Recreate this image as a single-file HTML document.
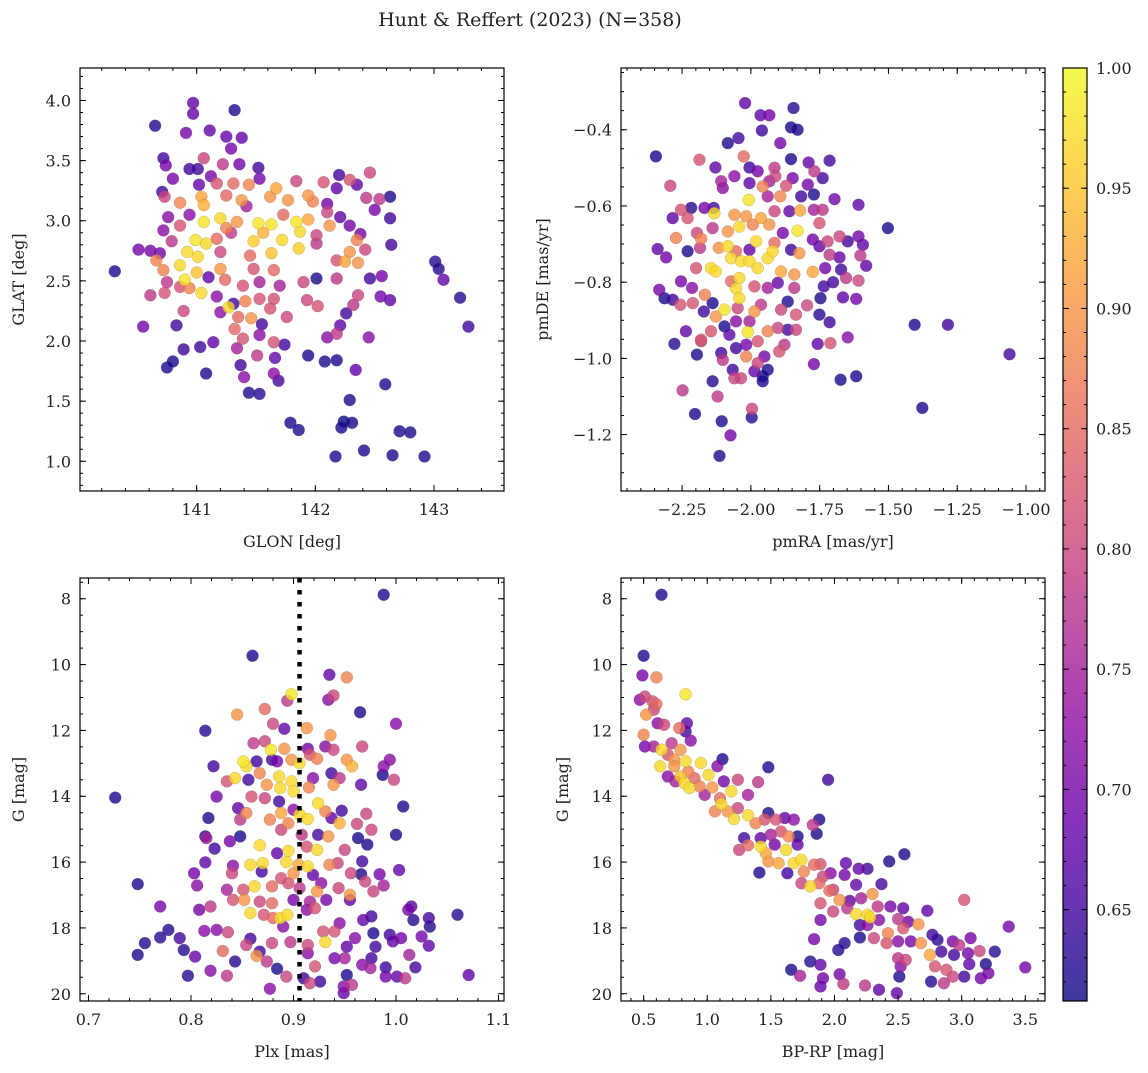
<!DOCTYPE html>
<html><head><meta charset="utf-8"><style>
html,body{margin:0;padding:0;background:#fff;}
svg text{font-family:"DejaVu Serif","Liberation Serif",serif;fill:#222;}
</style></head><body>
<svg id="fig" width="1148" height="1068" viewBox="0 0 1148 1068" xmlns="http://www.w3.org/2000/svg">
<text x="530" y="26" font-size="19" text-anchor="middle">Hunt &amp; Reffert (2023) (N=358)</text>
</svg>
<script>
// ---- Panel A: GLON vs GLAT
const glonA=[140.31,140.65,140.97,140.97,141.32,140.91,141.11,141.25,141.38,141.29,140.72,140.74,141.06,141.22,141.36,140.94,141.01,141.52,140.80,141.12,140.71,141.02,141.17,141.31,141.53,141.84,142.07,142.20,142.29,142.46,142.18,142.35,140.73,140.86,141.04,141.06,141.25,141.38,141.44,141.67,141.62,141.77,141.94,141.98,142.10,142.43,142.54,142.63,142.50,142.10,142.21,142.63,140.76,140.86,140.94,141.06,141.20,141.34,141.25,141.42,141.52,141.63,141.73,141.84,141.94,142.12,142.29,142.38,140.72,140.79,140.99,141.08,140.92,141.17,141.29,141.48,141.56,141.72,141.87,141.86,142.01,142.01,142.35,142.42,142.64,140.51,140.61,140.69,140.66,141.01,141.20,141.45,141.63,141.48,141.65,142.29,142.25,142.36,142.18,140.86,140.72,141.00,141.20,140.90,141.10,140.75,141.24,141.39,141.53,141.70,141.90,142.01,142.18,142.46,142.56,143.01,143.04,143.08,143.22,143.29,140.61,140.73,140.86,141.04,140.94,141.17,141.27,141.31,141.41,141.53,141.65,141.93,142.36,142.63,142.55,140.89,141.20,141.35,141.46,141.62,141.76,142.02,142.26,142.32,140.55,140.83,141.32,141.55,142.21,142.18,141.39,141.53,141.65,141.74,142.10,142.45,141.14,140.89,141.03,141.34,141.51,141.66,141.94,142.08,142.18,140.75,140.80,141.37,141.08,141.40,141.65,141.69,142.34,141.44,141.53,142.59,142.29,141.79,141.86,142.24,142.22,142.31,142.17,142.41,142.65,142.71,142.80,142.92];
const glatA=[2.58,3.79,3.98,3.89,3.92,3.73,3.75,3.70,3.69,3.60,3.52,3.46,3.52,3.47,3.47,3.43,3.43,3.44,3.35,3.37,3.24,3.30,3.31,3.31,3.35,3.33,3.32,3.38,3.34,3.40,3.27,3.30,3.20,3.15,3.20,3.13,3.21,3.17,3.30,3.27,3.20,3.17,3.21,3.16,3.14,3.19,3.18,3.20,3.09,3.07,3.03,3.02,3.03,2.96,3.05,2.99,3.02,2.99,2.94,3.12,2.98,2.97,3.05,2.99,3.01,2.96,2.96,2.89,2.92,2.83,2.84,2.81,2.74,2.85,2.90,2.83,2.90,2.84,2.91,2.77,2.88,2.81,2.84,2.76,2.80,2.76,2.75,2.73,2.67,2.70,2.74,2.71,2.73,2.60,2.59,2.74,2.66,2.65,2.67,2.63,2.59,2.57,2.60,2.51,2.53,2.49,2.51,2.46,2.49,2.46,2.49,2.52,2.52,2.52,2.54,2.66,2.60,2.51,2.36,2.12,2.38,2.40,2.45,2.40,2.44,2.37,2.28,2.31,2.33,2.35,2.35,2.34,2.38,2.34,2.37,2.25,2.24,2.20,2.19,2.27,2.20,2.29,2.23,2.30,2.12,2.13,2.10,2.14,2.13,2.06,2.02,2.05,1.99,1.97,2.03,2.03,1.99,1.93,1.95,1.94,1.88,1.86,1.88,1.83,1.84,1.78,1.83,1.80,1.73,1.70,1.73,1.67,1.76,1.57,1.56,1.64,1.51,1.32,1.26,1.33,1.28,1.32,1.04,1.09,1.05,1.25,1.24,1.04];
const probA=[0.62,0.63,0.68,0.68,0.62,0.7,0.68,0.68,0.68,0.7,0.65,0.7,0.8,0.78,0.7,0.65,0.65,0.65,0.7,0.7,0.65,0.68,0.82,0.85,0.7,0.8,0.82,0.65,0.82,0.8,0.68,0.68,0.8,0.88,0.92,0.93,0.85,0.9,0.88,0.92,0.9,0.9,0.9,0.88,0.7,0.78,0.78,0.62,0.7,0.8,0.68,0.65,0.72,0.82,0.72,0.98,0.97,0.9,0.88,0.75,0.98,0.98,0.85,0.98,0.92,0.9,0.7,0.7,0.72,0.78,0.98,0.97,0.97,0.85,0.78,0.96,0.93,0.97,0.97,0.96,0.8,0.78,0.88,0.8,0.65,0.7,0.7,0.7,0.88,0.97,0.8,0.85,0.95,0.82,0.85,0.9,0.92,0.9,0.82,0.97,0.88,0.95,0.9,0.98,0.68,0.78,0.85,0.82,0.75,0.75,0.8,0.62,0.78,0.65,0.7,0.63,0.63,0.68,0.63,0.65,0.78,0.82,0.82,0.97,0.88,0.72,0.97,0.65,0.88,0.82,0.82,0.8,0.8,0.68,0.7,0.8,0.72,0.85,0.9,0.82,0.8,0.82,0.65,0.78,0.7,0.65,0.85,0.65,0.68,0.78,0.82,0.72,0.82,0.65,0.72,0.72,0.68,0.65,0.65,0.75,0.78,0.68,0.62,0.62,0.62,0.62,0.62,0.65,0.62,0.72,0.72,0.65,0.68,0.62,0.63,0.62,0.62,0.62,0.62,0.6,0.62,0.62,0.62,0.62,0.62,0.62,0.62,0.62];
// ---- Panel B: pmRA vs pmDE
const pmraB=[-2.345,-2.021,-1.965,-1.933,-1.845,-1.854,-1.830,-1.960,-2.084,-2.045,-1.893,-2.187,-2.026,-2.129,-1.854,-1.790,-1.714,-2.293,-2.108,-2.060,-2.005,-1.975,-1.914,-1.911,-1.848,-1.769,-1.739,-2.102,-2.005,-1.957,-1.933,-1.872,-1.793,-1.771,-1.696,-1.609,-1.939,-1.893,-1.817,-2.008,-2.254,-2.217,-2.284,-2.230,-2.169,-2.133,-2.135,-2.060,-2.017,-1.963,-1.914,-1.860,-1.821,-1.771,-1.739,-2.272,-2.181,-2.196,-2.139,-2.084,-2.042,-1.993,-1.933,-1.884,-1.830,-1.751,-1.775,-1.721,-1.678,-1.648,-1.609,-1.593,-1.502,-2.339,-2.308,-2.230,-2.185,-2.117,-2.084,-2.054,-2.005,-1.981,-1.914,-1.854,-1.824,-1.751,-1.714,-1.678,-1.602,-1.581,-2.199,-2.145,-2.127,-2.072,-2.036,-2.005,-1.975,-1.939,-1.921,-1.890,-1.842,-1.775,-1.730,-1.672,-2.254,-2.214,-2.167,-2.042,-2.054,-2.042,-2.072,-1.987,-1.939,-1.902,-1.842,-1.735,-1.701,-1.654,-1.609,-2.333,-2.314,-2.284,-2.256,-2.211,-2.171,-2.139,-2.127,-2.096,-2.048,-1.987,-1.963,-1.890,-1.866,-1.836,-1.796,-1.747,-1.751,-1.714,-1.665,-1.617,-2.236,-2.181,-2.145,-2.096,-2.078,-2.054,-2.011,-2.005,-1.975,-1.939,-1.902,-1.866,-1.836,-2.278,-2.196,-2.181,-2.108,-2.102,-2.054,-2.017,-2.017,-1.975,-1.951,-1.897,-1.878,-1.757,-1.711,-1.648,-1.771,-2.066,-2.060,-2.036,-1.987,-1.957,-1.939,-1.957,-2.139,-1.674,-1.617,-1.405,-1.284,-1.060,-1.377,-2.248,-2.121,-2.203,-2.106,-1.996,-1.997,-2.074,-2.114];
const pmdeB=[-0.470,-0.330,-0.362,-0.362,-0.343,-0.394,-0.400,-0.402,-0.435,-0.422,-0.435,-0.479,-0.470,-0.499,-0.477,-0.486,-0.481,-0.547,-0.535,-0.522,-0.499,-0.509,-0.500,-0.522,-0.527,-0.509,-0.527,-0.553,-0.540,-0.549,-0.535,-0.547,-0.544,-0.570,-0.582,-0.597,-0.575,-0.575,-0.575,-0.584,-0.610,-0.605,-0.632,-0.632,-0.605,-0.619,-0.605,-0.623,-0.627,-0.632,-0.614,-0.614,-0.612,-0.610,-0.610,-0.684,-0.686,-0.671,-0.658,-0.667,-0.654,-0.649,-0.649,-0.671,-0.665,-0.645,-0.688,-0.693,-0.680,-0.693,-0.680,-0.702,-0.658,-0.713,-0.735,-0.719,-0.710,-0.710,-0.706,-0.719,-0.715,-0.693,-0.697,-0.715,-0.724,-0.706,-0.728,-0.735,-0.730,-0.757,-0.763,-0.763,-0.772,-0.737,-0.745,-0.745,-0.763,-0.737,-0.719,-0.772,-0.780,-0.773,-0.763,-0.767,-0.798,-0.815,-0.833,-0.789,-0.817,-0.842,-0.798,-0.811,-0.815,-0.802,-0.815,-0.811,-0.800,-0.789,-0.796,-0.820,-0.842,-0.846,-0.859,-0.855,-0.877,-0.855,-0.890,-0.872,-0.868,-0.877,-0.859,-0.872,-0.851,-0.885,-0.861,-0.842,-0.885,-0.905,-0.840,-0.844,-0.929,-0.951,-0.929,-0.916,-0.938,-0.903,-0.931,-0.903,-0.955,-0.929,-0.920,-0.925,-0.925,-0.962,-0.990,-0.955,-0.986,-1.004,-0.973,-0.964,-0.995,-1.012,-0.995,-0.982,-0.964,-0.962,-0.960,-0.945,-1.015,-1.030,-1.052,-1.052,-1.034,-1.047,-1.030,-1.060,-1.060,-1.056,-1.047,-0.912,-0.912,-0.989,-1.130,-1.084,-1.100,-1.146,-1.165,-1.132,-1.155,-1.202,-1.256];
const probB=[0.62,0.68,0.68,0.7,0.63,0.62,0.62,0.65,0.62,0.65,0.7,0.82,0.85,0.68,0.62,0.68,0.65,0.8,0.75,0.72,0.65,0.7,0.78,0.8,0.7,0.78,0.65,0.72,0.68,0.88,0.75,0.82,0.7,0.62,0.7,0.68,0.75,0.88,0.65,0.98,0.82,0.63,0.68,0.82,0.7,0.97,0.65,0.9,0.9,0.92,0.8,0.68,0.92,0.75,0.78,0.88,0.88,0.8,0.78,0.9,0.97,0.88,0.9,0.7,0.98,0.82,0.7,0.8,0.8,0.65,0.7,0.68,0.62,0.68,0.7,0.62,0.78,0.9,0.97,0.85,0.68,0.97,0.85,0.65,0.9,0.68,0.78,0.68,0.78,0.68,0.82,0.97,0.97,0.97,0.97,0.97,0.97,0.97,0.97,0.92,0.9,0.92,0.7,0.65,0.7,0.72,0.88,0.97,0.97,0.97,0.85,0.82,0.75,0.68,0.78,0.65,0.65,0.78,0.8,0.7,0.62,0.65,0.82,0.82,0.65,0.62,0.9,0.98,0.8,0.9,0.78,0.8,0.62,0.82,0.8,0.62,0.63,0.65,0.68,0.7,0.68,0.82,0.82,0.62,0.68,0.72,0.98,0.75,0.82,0.88,0.8,0.65,0.8,0.63,0.62,0.8,0.65,0.78,0.65,0.7,0.88,0.8,0.7,0.82,0.78,0.68,0.82,0.72,0.7,0.65,0.8,0.8,0.68,0.62,0.62,0.62,0.63,0.62,0.62,0.62,0.65,0.65,0.62,0.78,0.78,0.62,0.62,0.8,0.63,0.7,0.62];
// ---- Panel C: Plx vs G
const plxC=[0.988,0.860,0.726,0.748,0.935,0.952,0.898,0.894,0.934,0.939,0.872,0.845,0.965,0.880,0.891,0.913,0.814,1.000,0.936,0.967,0.861,0.872,0.878,0.891,0.914,0.916,0.931,0.939,0.879,0.851,0.854,0.864,0.884,0.898,0.906,0.923,0.952,0.957,0.994,0.988,0.822,0.843,0.835,0.856,0.867,0.874,0.886,0.887,0.898,0.900,0.915,0.919,0.939,0.937,0.945,0.966,0.987,0.998,0.825,0.859,0.872,0.886,1.007,0.817,0.846,0.854,0.848,0.877,0.888,0.895,0.900,0.906,0.914,0.924,0.931,0.937,0.947,0.945,0.971,0.962,0.976,0.814,0.815,0.838,0.848,0.888,0.908,0.924,0.934,0.963,0.972,1.000,0.823,0.867,0.884,0.895,0.913,0.923,0.950,0.814,0.841,0.858,0.870,0.893,0.905,0.914,0.935,0.943,0.967,1.003,0.803,0.840,0.869,0.888,0.900,0.919,0.927,0.956,0.966,0.984,0.806,0.835,0.851,0.862,0.879,0.895,0.906,0.923,0.944,0.970,0.978,0.988,0.955,0.770,0.808,0.819,0.841,0.852,0.867,0.879,0.900,0.916,0.932,0.955,1.015,1.012,0.858,0.871,0.887,0.894,0.880,0.913,0.921,0.968,0.976,1.017,1.032,1.060,0.778,0.770,0.755,0.748,0.789,0.793,0.804,0.797,0.813,0.825,0.836,0.831,0.819,0.835,0.843,0.854,0.858,0.864,0.867,0.874,0.877,0.879,0.884,0.893,0.890,0.897,0.914,0.914,0.921,0.910,0.916,0.926,0.931,0.929,0.940,0.945,0.940,0.950,0.952,0.960,0.952,0.949,0.957,0.949,0.967,0.976,0.975,0.978,0.980,0.990,0.990,0.994,0.997,1.005,1.001,1.009,1.013,1.019,1.025,1.032,1.033,1.071];
const gmagC=[7.88,9.73,14.04,16.67,10.31,10.39,10.90,11.10,11.07,10.94,11.35,11.52,11.45,11.80,11.95,11.93,12.01,11.80,12.15,12.49,12.39,12.33,12.59,12.56,12.56,12.74,12.49,12.59,12.89,12.94,13.09,12.94,12.94,12.89,12.99,12.86,12.89,13.09,12.89,13.09,13.09,13.45,13.55,13.50,13.30,13.65,13.40,13.75,13.55,13.85,13.73,13.45,13.65,13.30,13.45,13.65,13.35,13.50,14.01,14.01,14.06,14.16,14.31,14.66,14.36,14.51,14.71,14.71,14.51,14.82,14.41,14.56,14.69,14.21,14.46,14.66,14.44,14.82,14.53,14.84,15.02,15.22,15.27,15.37,15.22,15.02,15.17,15.17,15.22,15.27,15.47,15.17,15.59,15.49,15.73,15.66,15.53,15.63,15.63,16.01,16.11,16.08,16.03,16.00,16.08,16.13,16.08,16.03,15.98,16.24,16.34,16.34,16.29,16.49,16.34,16.39,16.64,16.34,16.37,16.37,16.71,16.84,16.84,16.74,16.74,16.64,16.79,16.89,16.79,16.59,16.89,16.71,16.99,17.35,17.45,17.35,17.15,17.15,17.20,17.25,17.15,17.20,17.15,17.15,17.35,17.45,17.55,17.60,17.70,17.60,17.70,17.45,17.40,17.76,17.65,17.76,17.70,17.60,18.06,18.29,18.46,18.82,18.31,18.67,18.87,19.45,18.09,18.06,18.13,18.70,19.30,19.45,19.02,18.52,18.33,18.85,18.72,19.02,19.85,18.46,19.24,19.48,17.96,18.43,18.52,18.77,19.17,19.53,19.68,19.63,18.43,18.11,18.11,17.86,18.92,18.92,18.57,18.31,19.43,19.78,19.73,19.98,19.12,18.92,19.22,18.16,18.57,19.20,19.48,18.21,18.41,18.31,19.48,19.53,18.82,19.20,18.26,18.54,17.96,19.43];
const probC=[0.62,0.62,0.62,0.62,0.68,0.88,0.98,0.78,0.72,0.8,0.85,0.9,0.62,0.8,0.68,0.9,0.63,0.72,0.9,0.8,0.78,0.8,0.98,0.9,0.7,0.82,0.72,0.8,0.65,0.98,0.97,0.65,0.7,0.9,0.97,0.88,0.9,0.93,0.72,0.72,0.65,0.97,0.82,0.65,0.88,0.9,0.97,0.97,0.97,0.97,0.88,0.72,0.9,0.65,0.78,0.68,0.62,0.8,0.7,0.82,0.8,0.65,0.62,0.62,0.68,0.88,0.78,0.88,0.92,0.88,0.72,0.97,0.97,0.97,0.88,0.68,0.65,0.93,0.8,0.8,0.8,0.63,0.75,0.7,0.62,0.8,0.78,0.65,0.9,0.62,0.62,0.62,0.65,0.97,0.68,0.97,0.82,0.97,0.8,0.68,0.72,0.97,0.97,0.97,0.92,0.97,0.88,0.8,0.65,0.68,0.7,0.8,0.65,0.82,0.9,0.68,0.72,0.8,0.62,0.7,0.72,0.75,0.82,0.97,0.85,0.82,0.78,0.9,0.8,0.8,0.8,0.75,0.9,0.7,0.7,0.78,0.82,0.9,0.8,0.85,0.7,0.75,0.7,0.68,0.68,0.7,0.97,0.82,0.97,0.97,0.85,0.72,0.82,0.68,0.65,0.63,0.65,0.63,0.63,0.63,0.63,0.62,0.65,0.63,0.68,0.63,0.72,0.72,0.8,0.85,0.72,0.78,0.63,0.8,0.65,0.9,0.65,0.78,0.72,0.8,0.62,0.8,0.72,0.78,0.8,0.72,0.82,0.65,0.8,0.65,0.97,0.82,0.82,0.72,0.7,0.75,0.68,0.72,0.62,0.72,0.78,0.68,0.72,0.65,0.75,0.62,0.65,0.65,0.7,0.65,0.68,0.7,0.68,0.78,0.75,0.65,0.7,0.68,0.63,0.68];
// ---- Panel D: BP-RP vs G
const bprpD=[0.64,0.50,0.49,0.60,0.83,0.47,0.51,0.57,0.60,0.58,0.52,0.61,0.66,0.84,0.78,0.83,0.50,0.87,0.51,0.58,0.64,0.72,0.79,0.69,0.74,0.83,0.95,0.63,0.74,1.12,1.08,0.69,0.79,0.85,0.90,1.01,1.48,1.95,0.75,0.82,0.86,0.94,0.98,1.04,1.13,1.24,1.40,1.19,1.10,1.32,1.11,1.06,1.16,1.21,1.24,1.32,1.38,1.48,1.45,1.54,1.61,1.68,1.83,1.88,1.86,1.29,1.32,1.25,1.42,1.50,1.58,1.64,1.71,1.42,1.46,1.53,1.62,1.71,1.41,1.48,1.56,1.68,1.63,1.74,1.76,1.84,1.89,2.43,2.55,2.09,2.19,2.26,1.97,1.91,2.08,1.74,1.81,1.88,1.96,1.99,2.17,2.37,2.30,1.89,2.04,2.12,2.21,1.99,2.10,2.17,2.26,2.28,2.34,2.44,2.54,2.73,3.02,2.20,2.26,2.35,2.42,2.50,2.58,2.54,2.66,1.89,3.37,2.20,2.31,2.41,2.50,2.60,2.68,2.77,2.81,2.75,2.84,2.93,2.98,3.07,3.05,3.14,3.26,2.94,2.79,2.88,3.06,3.19,3.50,2.76,2.86,2.93,3.02,3.15,3.21,1.84,2.03,2.08,1.81,1.89,1.66,1.73,1.91,1.89,2.04,2.07,2.24,2.35,2.50,2.52,2.51,2.49,2.56];
const gmagD=[7.88,9.73,10.33,10.39,10.90,11.07,10.97,11.12,11.20,11.37,11.52,11.78,11.83,11.78,11.93,12.03,12.13,12.31,12.49,12.49,12.59,12.39,12.59,12.74,12.89,12.94,12.99,13.09,13.09,12.87,13.09,13.40,13.40,13.25,13.45,13.35,13.12,13.50,13.55,13.60,13.75,13.70,13.96,13.73,13.55,13.50,13.57,13.85,14.06,13.96,14.24,14.46,14.46,14.69,14.36,14.58,14.82,14.51,14.71,14.71,14.66,14.71,14.87,14.71,15.14,15.27,15.49,15.63,15.27,15.17,15.07,15.22,15.22,15.53,15.73,15.47,15.63,15.47,16.32,15.98,16.03,16.03,16.34,15.93,16.29,16.08,16.06,15.98,15.76,16.03,16.20,16.20,16.34,16.44,16.39,16.64,16.74,16.64,16.87,16.84,16.69,16.67,16.97,17.25,17.15,17.18,17.10,17.50,17.40,17.58,17.60,17.68,17.35,17.35,17.40,17.48,17.15,17.91,17.91,17.76,18.16,17.73,17.81,18.01,17.89,17.76,17.96,18.29,18.31,18.46,18.41,18.41,18.46,18.21,18.36,18.82,18.72,18.41,18.52,18.31,18.77,18.70,18.72,18.82,19.17,19.27,19.10,19.10,19.20,19.63,19.68,19.48,19.48,19.53,19.38,18.34,18.67,18.46,19.02,19.12,19.27,19.45,19.53,19.78,19.41,19.70,19.75,19.88,18.92,19.17,19.48,19.98,18.97];
const probD=[0.62,0.62,0.7,0.88,0.98,0.72,0.8,0.82,0.85,0.8,0.9,0.72,0.8,0.68,0.85,0.65,0.88,0.72,0.7,0.75,0.97,0.78,0.9,0.82,0.9,0.97,0.97,0.97,0.9,0.62,0.72,0.72,0.95,0.88,0.85,0.97,0.62,0.65,0.75,0.97,0.97,0.88,0.75,0.9,0.7,0.8,0.78,0.97,0.85,0.75,0.97,0.88,0.9,0.97,0.8,0.97,0.88,0.62,0.82,0.82,0.68,0.72,0.78,0.62,0.62,0.65,0.85,0.8,0.68,0.75,0.82,0.88,0.62,0.97,0.92,0.7,0.97,0.68,0.62,0.9,0.92,0.97,0.65,0.97,0.88,0.85,0.82,0.62,0.62,0.68,0.68,0.65,0.72,0.8,0.7,0.8,0.97,0.85,0.85,0.8,0.68,0.65,0.9,0.82,0.9,0.68,0.75,0.8,0.78,0.97,0.97,0.97,0.78,0.7,0.68,0.68,0.82,0.65,0.72,0.72,0.88,0.78,0.7,0.82,0.9,0.7,0.7,0.62,0.8,0.82,0.72,0.7,0.9,0.65,0.63,0.92,0.65,0.7,0.78,0.7,0.7,0.8,0.63,0.65,0.82,0.82,0.68,0.62,0.7,0.63,0.78,0.8,0.65,0.7,0.7,0.7,0.63,0.63,0.63,0.68,0.62,0.75,0.7,0.68,0.7,0.78,0.78,0.68,0.78,0.72,0.62,0.68,0.8];
// ---- Colorbar ticks
const cbTicks=[0.65,0.70,0.75,0.80,0.85,0.90,0.95,1.00];
const pMin=0.612, pMax=1.0;

const svg=document.getElementById('fig');
const NS='http://www.w3.org/2000/svg';
function mk(tag,attrs,parent){const e=document.createElementNS(NS,tag);for(const k in attrs)e.setAttribute(k,attrs[k]);(parent||svg).appendChild(e);return e;}
const stops=[[13,8,135],[65,4,157],[106,0,168],[143,13,164],[177,42,144],[204,71,120],[225,100,98],[242,132,75],[252,166,54],[252,206,37],[240,249,33]];
function plasma(t){t=Math.max(0,Math.min(1,t));const f=t*10,i=Math.min(9,Math.floor(f)),r=f-i;const a=stops[i],b=stops[i+1];return 'rgb('+[0,1,2].map(k=>Math.round(a[k]+(b[k]-a[k])*r)).join(',')+')';}
function fmt(v,d){return (v<0?'\u2212':'')+Math.abs(v).toFixed(d);}

function panel(cfg){
  const {name,x0,y0,w,h,xmin,xmax,ymin,ymax,yinv,xs,ys,ps,xt,xd,xminor,yt,yd,yminor,xlabel,ylabel}=cfg;
  const g=mk('g',{});
  
  
  const sx=v=>x0+(v-xmin)/(xmax-xmin)*w;
  const sy=v=>yinv? y0+(v-ymin)/(ymax-ymin)*h : y0+h-(v-ymin)/(ymax-ymin)*h;
  const cp=mk('clipPath',{id:'cp-'+name},g);mk('rect',{x:x0,y:y0,width:w,height:h},cp);
  const pts=mk('g',{'clip-path':'url(#cp-'+name+')'},g);
  
  
  const idx=ps.map((p,i)=>i).sort((a,b)=>ps[a]-ps[b]);
  for(const i of idx){
    const c=mk('circle',{cx:sx(xs[i]).toFixed(1),cy:sy(ys[i]).toFixed(1),r:6,fill:plasma((ps[i]-pMin)/(pMax-pMin)),'fill-opacity':0.8,stroke:'#555','stroke-opacity':0.35,'stroke-width':0.5},pts);
    
    
  }
  if(cfg.vline!==undefined){
    const l=mk('line',{x1:sx(cfg.vline),x2:sx(cfg.vline),y1:y0,y2:y0+h,stroke:'#000','stroke-width':4.5,'stroke-dasharray':'4.5 7.5'},g);
    
    
  }
  const frame=mk('rect',{x:x0,y:y0,width:w,height:h,fill:'none',stroke:'#000','stroke-width':1.2},g);
  
  
  const tk=mk('g',{stroke:'#000','stroke-width':1},g);
  const eps=1e-9;
  for(let v=Math.ceil(xmin/xminor)*xminor; v<=xmax+eps; v+=xminor){const X=sx(v);mk('line',{x1:X,x2:X,y1:y0+h,y2:y0+h-3},tk);mk('line',{x1:X,x2:X,y1:y0,y2:y0+3},tk);}
  for(let v=Math.ceil(ymin/yminor)*yminor; v<=ymax+eps; v+=yminor){const Y=sy(v);mk('line',{x1:x0,x2:x0+3,y1:Y,y2:Y},tk);mk('line',{x1:x0+w,x2:x0+w-3,y1:Y,y2:Y},tk);}
  for(const v of xt){const X=sx(v);mk('line',{x1:X,x2:X,y1:y0+h,y2:y0+h-6},tk);mk('line',{x1:X,x2:X,y1:y0,y2:y0+6},tk);
    const t=mk('text',{x:X,y:y0+h+24,'font-size':16,'text-anchor':'middle'},g);t.textContent=fmt(v,xd);
    
    }
  for(const v of yt){const Y=sy(v);mk('line',{x1:x0,x2:x0+6,y1:Y,y2:Y},tk);mk('line',{x1:x0+w,x2:x0+w-6,y1:Y,y2:Y},tk);
    const t=mk('text',{x:x0-9,y:Y+6,'font-size':16,'text-anchor':'end'},g);t.textContent=fmt(v,yd);
    
    }
  const xl=mk('text',{x:x0+w/2,y:y0+h+56,'font-size':16,'text-anchor':'middle'},g);xl.textContent=xlabel;
  
  
  const ylx=cfg.ylx;
  const yl=mk('text',{x:ylx,y:y0+h/2,'font-size':16,'text-anchor':'middle',transform:'rotate(-90 '+ylx+' '+(y0+h/2)+')'},g);yl.textContent=ylabel;
  
  
}

panel({name:'glon-glat-panel',x0:80,y0:68,w:424,h:423,xmin:140.017,xmax:143.59,ymin:0.753,ymax:4.27,xs:glonA,ys:glatA,ps:probA,xt:[141,142,143],xd:0,xminor:0.2,yt:[1.0,1.5,2.0,2.5,3.0,3.5,4.0],yd:1,yminor:0.1,xlabel:'GLON [deg]',ylabel:'GLAT [deg]',ylx:24});
panel({name:'proper-motion-panel',x0:621,y0:68,w:424,h:423,xmin:-2.472,xmax:-0.931,ymin:-1.348,ymax:-0.238,xs:pmraB,ys:pmdeB,ps:probB,xt:[-2.25,-2.0,-1.75,-1.5,-1.25,-1.0],xd:2,xminor:0.05,yt:[-1.2,-1.0,-0.8,-0.6,-0.4],yd:1,yminor:0.05,xlabel:'pmRA [mas/yr]',ylabel:'pmDE [mas/yr]',ylx:548});
panel({name:'parallax-mag-panel',x0:80,y0:578,w:424,h:423,xmin:0.6917,xmax:1.1054,ymin:7.37,ymax:20.22,yinv:true,xs:plxC,ys:gmagC,ps:probC,xt:[0.7,0.8,0.9,1.0,1.1],xd:1,xminor:0.02,yt:[8,10,12,14,16,18,20],yd:0,yminor:0.5,xlabel:'Plx [mas]',ylabel:'G [mag]',ylx:24,vline:0.9059});
panel({name:'cmd-panel',x0:621,y0:578,w:424,h:423,xmin:0.322,xmax:3.655,ymin:7.37,ymax:20.22,yinv:true,xs:bprpD,ys:gmagD,ps:probD,xt:[0.5,1.0,1.5,2.0,2.5,3.0,3.5],xd:1,xminor:0.1,yt:[8,10,12,14,16,18,20],yd:0,yminor:0.5,xlabel:'BP-RP [mag]',ylabel:'G [mag]',ylx:568});

// colorbar
(function(){
  const x0=1063,y0=68,w=24,h=933;
  const g=mk('g',{});
  
  
  const defs=mk('defs',{},g);
  const lg=mk('linearGradient',{id:'cbg',x1:0,y1:1,x2:0,y2:0},defs);
  for(let i=0;i<=10;i++){mk('stop',{offset:i/10,'stop-color':plasma(i/10)},lg);}
  mk('rect',{x:x0,y:y0,width:w,height:h,fill:'url(#cbg)','fill-opacity':0.8},g);
  mk('rect',{x:x0,y:y0,width:w,height:h,fill:'none',stroke:'#000','stroke-width':1.2},g);
  const sy=v=>y0+h-(v-pMin)/(pMax-pMin)*h;
  for(let v=0.62;v<=1.0001;v+=0.01){const Y=sy(v);mk('line',{x1:x0+w,x2:x0+w-3,y1:Y,y2:Y,stroke:'#000'},g);mk('line',{x1:x0,x2:x0+3,y1:Y,y2:Y,stroke:'#000'},g);}
  for(const v of cbTicks){const Y=sy(v);mk('line',{x1:x0+w,x2:x0+w-6,y1:Y,y2:Y,stroke:'#000'},g);mk('line',{x1:x0,x2:x0+6,y1:Y,y2:Y,stroke:'#000'},g);
    const t=mk('text',{x:x0+w+9,y:Y+6,'font-size':16},g);t.textContent=v.toFixed(2);
    
    }
})();
</script>
</body></html>
